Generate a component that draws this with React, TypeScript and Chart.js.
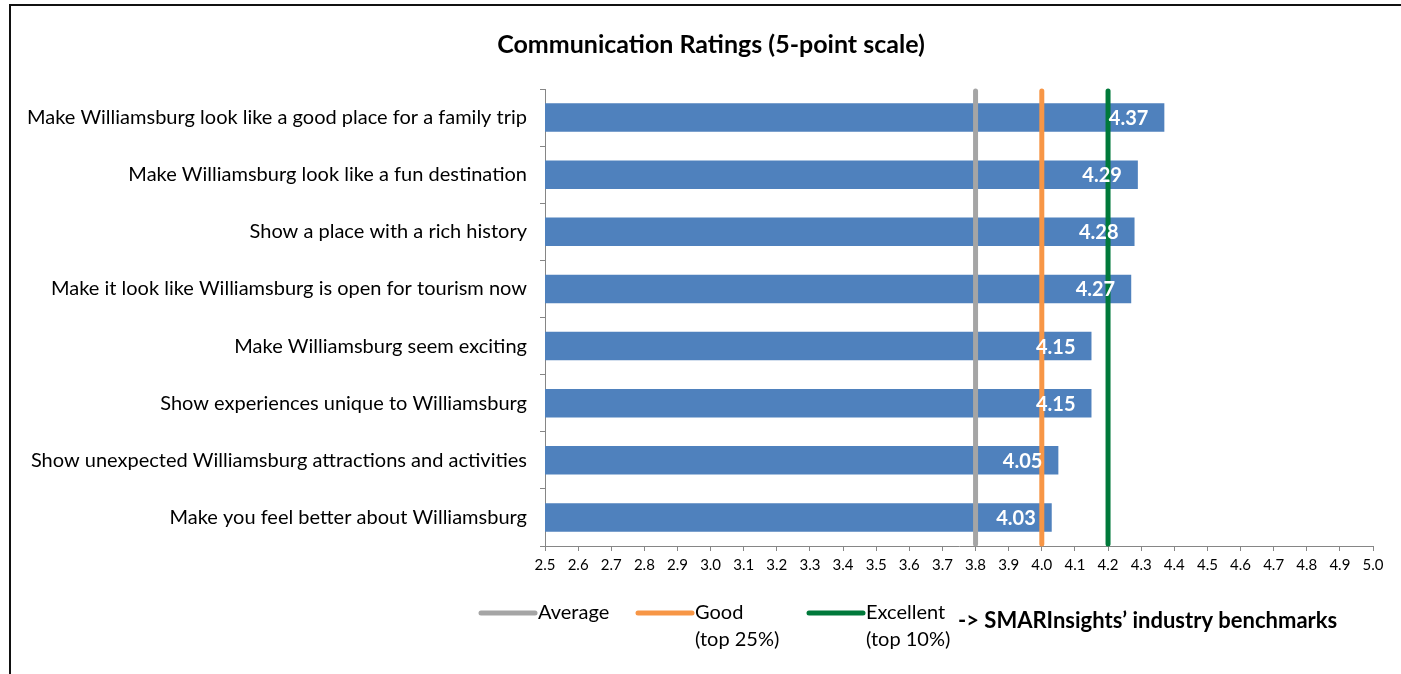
import { useEffect, useRef } from "react";
import { Chart, registerables } from "chart.js";

Chart.register(...registerables);

const categories = [
  "Make Williamsburg look like a good place for a family trip",
  "Make Williamsburg look like a fun destination",
  "Show a place with a rich history",
  "Make it look like Williamsburg is open for tourism now",
  "Make Williamsburg seem exciting",
  "Show experiences unique to Williamsburg",
  "Show unexpected Williamsburg attractions and activities",
  "Make you feel better about Williamsburg",
];
const ratings = [4.37, 4.29, 4.28, 4.27, 4.15, 4.15, 4.05, 4.03];

const benchmarkValues = [3.8, 4.0, 4.2];
const benchmarkNames = ["Average", "Good", "Excellent"];
const benchmarkSubs = ["", "(top 25%)", "(top 10%)"];
const benchmarkColors = ["#A5A5A5", "#F79646", "#00793A"];

const xMin = 2.5;
const xMax = 5.0;
const xStep = 0.1;

const titleText = "Communication Ratings (5-point scale)";
const noteText = "-> SMARInsights\u2019 industry benchmarks";

const FONT = "Lato, 'Open Sans', 'Liberation Sans', sans-serif";
const BAR_COLOR = "#4F81BD";

export default function App() {
  const ref = useRef<HTMLCanvasElement>(null);

  useEffect(() => {
    document.body.style.margin = "0";
    const canvas = ref.current;
    if (!canvas) return;

    const overlay = {
      id: "overlay",
      beforeDraw(chart: any) {
        const ctx = chart.ctx;
        ctx.save();
        ctx.fillStyle = "#fff";
        ctx.fillRect(0, 0, chart.width, chart.height);
        ctx.strokeStyle = "#111";
        ctx.lineWidth = 2;
        ctx.beginPath();
        ctx.moveTo(10, chart.height);
        ctx.lineTo(10, 5);
        ctx.lineTo(chart.width, 5);
        ctx.stroke();
        // title
        ctx.fillStyle = "#000";
        ctx.font = `bold 25px ${FONT}`;
        ctx.textAlign = "center";
        ctx.textBaseline = "middle";
        ctx.fillText(titleText, 711, 45);
        ctx.restore();
      },
      afterDatasetsDraw(chart: any) {
        const ctx = chart.ctx;
        const xs = chart.scales.x;
        const area = chart.chartArea;
        ctx.save();
        benchmarkValues.forEach((v, i) => {
          const x = xs.getPixelForValue(v);
          ctx.strokeStyle = benchmarkColors[i];
          ctx.lineWidth = 5;
          ctx.lineCap = "round";
          ctx.beginPath();
          ctx.moveTo(x, area.top + 2);
          ctx.lineTo(x, area.bottom - 2);
          ctx.stroke();
        });
        // data labels
        const meta = chart.getDatasetMeta(0);
        ctx.fillStyle = "#fff";
        ctx.font = `bold 20px ${FONT}`;
        ctx.textAlign = "right";
        ctx.textBaseline = "middle";
        meta.data.forEach((bar: any, i: number) => {
          ctx.fillText(ratings[i].toFixed(2), bar.x - 16, bar.y + 1);
        });
        ctx.restore();
      },
      afterDraw(chart: any) {
        const ctx = chart.ctx;
        ctx.save();
        const lineStarts = [481, 638, 809];
        const y = 613;
        benchmarkNames.forEach((name, i) => {
          const x0 = lineStarts[i];
          ctx.strokeStyle = benchmarkColors[i];
          ctx.lineWidth = 5;
          ctx.lineCap = "round";
          ctx.beginPath();
          ctx.moveTo(x0, y);
          ctx.lineTo(x0 + 54, y);
          ctx.stroke();
          ctx.fillStyle = "#000";
          ctx.font = `20px ${FONT}`;
          ctx.textAlign = "left";
          ctx.textBaseline = "middle";
          ctx.fillText(name, x0 + 57, y);
          if (benchmarkSubs[i]) ctx.fillText(benchmarkSubs[i], x0 + 57, y + 27);
        });
        ctx.font = `bold 22px ${FONT}`;
        ctx.textAlign = "left";
        ctx.textBaseline = "middle";
        ctx.fillText(noteText, 958, 621);
        ctx.restore();
      },
    };

    const chart = new Chart(canvas, {
      type: "bar",
      data: {
        labels: categories,
        datasets: [
          {
            data: ratings,
            backgroundColor: BAR_COLOR,
            borderWidth: 0,
            barPercentage: 0.5,
            categoryPercentage: 1,
          },
        ],
      },
      options: {
        indexAxis: "y",
        responsive: false,
        animation: false,
        devicePixelRatio: 1,
        layout: { padding: { top: 89, right: 28, bottom: 0, left: 0 } },
        plugins: {
          legend: { display: false },
          title: { display: false },
          tooltip: { enabled: false },
        },
        scales: {
          x: {
            type: "linear",
            min: xMin,
            max: xMax,
            afterFit(scale: any) {
              scale.height = 128;
            },
            ticks: {
              stepSize: xStep,
              autoSkip: false,
              maxRotation: 0,
              padding: 5,
              color: "#000",
              font: { family: FONT, size: 15 },
              callback: (v: any) => Number(v).toFixed(1),
            },
            grid: {
              drawOnChartArea: false,
              drawTicks: true,
              tickLength: 5,
              color: "#868686",
            },
            border: { color: "#868686", width: 1 },
          },
          y: {
            type: "category",
            afterFit(scale: any) {
              scale.width = 545;
            },
            ticks: {
              padding: 13,
              color: "#000",
              font: { family: FONT, size: 20 },
              autoSkip: false,
            },
            grid: {
              offset: true,
              drawOnChartArea: false,
              drawTicks: true,
              tickLength: 5,
              color: "#868686",
            },
            border: { color: "#868686", width: 1 },
          },
        },
      },
      plugins: [overlay],
    } as any);

    return () => chart.destroy();
  }, []);

  return <canvas ref={ref} width={1401} height={674} style={{ display: "block" }} />;
}
